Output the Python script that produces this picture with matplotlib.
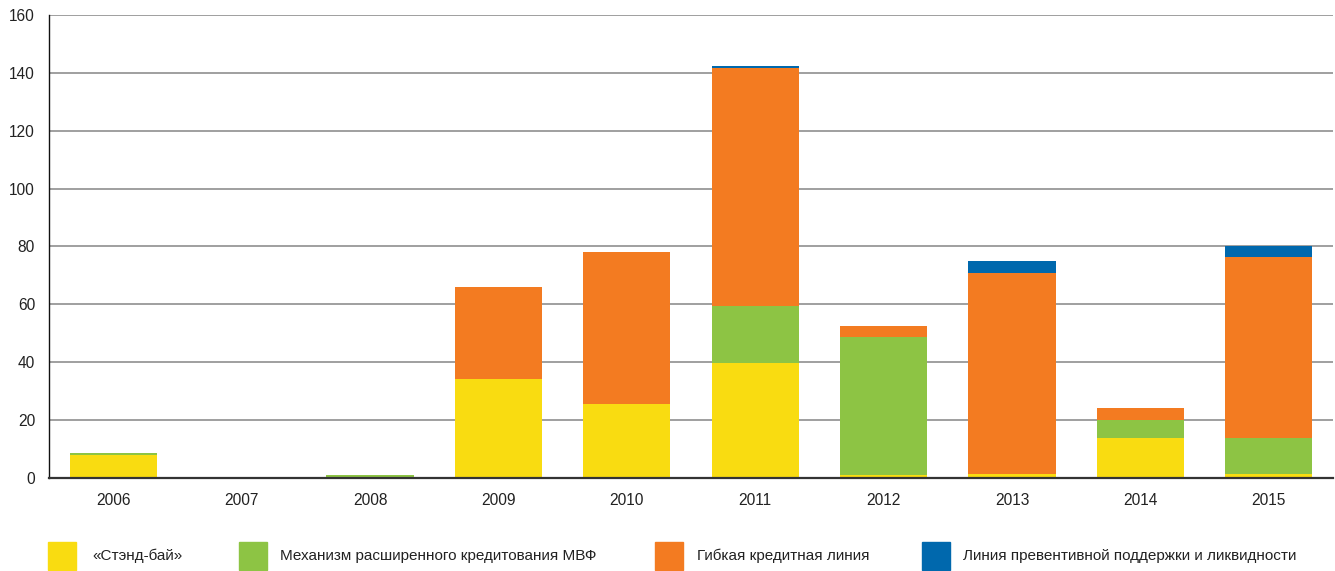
import matplotlib
matplotlib.use("Agg")
import matplotlib.pyplot as plt
import matplotlib.patches as mpatches
import numpy as np

plt.rcParams['font.family'] = ['Liberation Sans Narrow', 'Liberation Sans', 'DejaVu Sans']

years = ['2006', '2007', '2008', '2009', '2010', '2011', '2012', '2013', '2014', '2015']
standby = [8.1, 0, 0, 34.1, 25.5, 39.7, 1.0, 1.4, 13.8, 1.4]
eff = [0.5, 0, 1.0, 0, 0, 19.6, 47.7, 0, 6.2, 12.4]
fcl = [0, 0, 0, 31.8, 52.5, 82.3, 3.8, 69.4, 4.2, 62.5]
pll = [0, 0, 0, 0, 0, 0.7, 0, 4.2, 0, 3.7]

series = [standby, eff, fcl, pll]
names = ['«Стэнд-бай»', 'Механизм расширенного кредитования МВФ',
         'Гибкая кредитная линия', 'Линия превентивной поддержки и ликвидности']
colors = ['#F9DC11', '#8DC444', '#F37B21', '#0068AD']

W, H = 1335, 571
fig = plt.figure(figsize=(W / 100, H / 100), dpi=100)
ax = fig.add_axes([49 / W, (H - 478) / H, 1284 / W, 463 / H])

x = np.arange(len(years))
bottom = np.zeros(len(years))
for vals, c in zip(series, colors):
    ax.bar(x, vals, 0.68, bottom=bottom, color=c, zorder=3, linewidth=0)
    bottom += np.array(vals)

ax.set_xlim(-0.5, len(years) - 0.5)
ax.set_ylim(0, 160)
ax.set_yticks(range(0, 161, 20))
ax.set_xticks(x)
ax.set_xticklabels(years)
ax.tick_params(length=0, labelsize=11.2, colors='#222222')
ax.tick_params(axis='x', pad=11)
ax.tick_params(axis='y', pad=10)
ax.grid(axis='y', color='#8f8f8f', linewidth=1.2, zorder=0)
for s in ['top', 'right']:
    ax.spines[s].set_visible(False)
ax.spines['left'].set_color('#111111')
ax.spines['bottom'].set_color('#333333')
ax.spines['left'].set_linewidth(1.0)
ax.spines['bottom'].set_linewidth(1.6)
ax.spines['left'].set_zorder(4)
ax.spines['bottom'].set_zorder(4)

# legend boxes along the bottom
leg_x = [48, 239, 655, 922]
txt_x = [92, 280, 697, 963]
for lx, tx, c, n in zip(leg_x, txt_x, colors, names):
    fig.patches.append(mpatches.Rectangle((lx / W, (H - 570) / H), 28 / W, 28 / H,
                                          transform=fig.transFigure, color=c))
    fig.text(tx / W, (H - 556) / H, n, fontsize=11, va='center', ha='left', color='#222222')

fig.savefig('out.png', dpi=100)
